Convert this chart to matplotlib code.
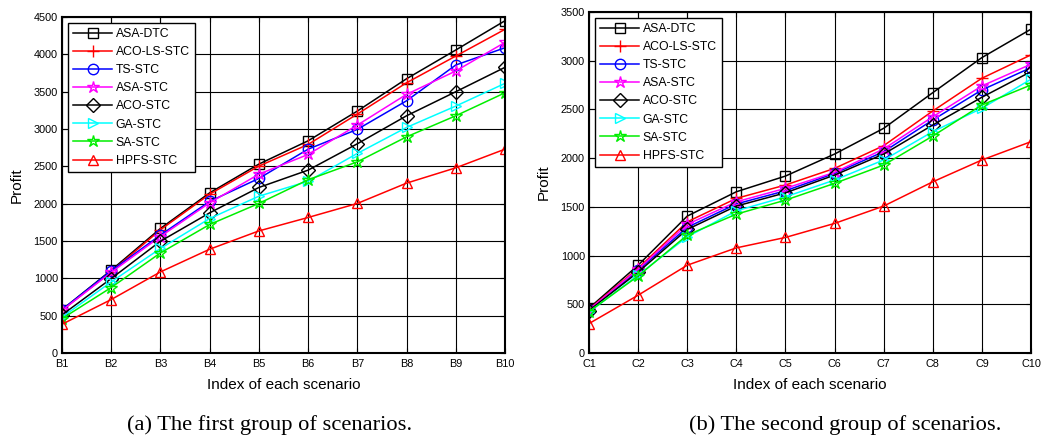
import numpy as np
from matplotlib import pyplot as plt

plt.rcParams["font.family"] = ["Liberation Sans", "DejaVu Sans"]

methods = ["ASA-DTC", "ACO-LS-STC", "TS-STC", "ASA-STC", "ACO-STC", "GA-STC", "SA-STC", "HPFS-STC"]
colors = ["black", "red", "blue", "magenta", "black", "cyan", "#00ee00", "red"]
markers = ["s", "+", "o", "*", "D", ">", "*", "^"]

labels_b = ["B%d" % i for i in range(1, 11)]
labels_c = ["C%d" % i for i in range(1, 11)]

# first group (B1..B10)
asa_dtc_b = [580, 1109, 1668, 2145, 2530, 2842, 3240, 3673, 4058, 4450]
aco_ls_b = [570, 1090, 1650, 2127, 2503, 2793, 3200, 3619, 3977, 4335]
ts_b = [580, 1100, 1580, 2030, 2338, 2730, 2995, 3378, 3857, 4088]
asa_stc_b = [570, 1080, 1560, 2011, 2395, 2659, 3052, 3464, 3777, 4160]
aco_stc_b = [510, 997, 1497, 1877, 2217, 2449, 2802, 3177, 3499, 3826]
ga_b = [480, 952, 1400, 1801, 2100, 2300, 2673, 3021, 3307, 3611]
sa_b = [460, 877, 1340, 1721, 2003, 2320, 2560, 2895, 3177, 3485]
hpfs_b = [385, 716, 1086, 1390, 1635, 1815, 2003, 2275, 2480, 2730]

# second group (C1..C10)
asa_dtc_c = [460, 901, 1405, 1655, 1816, 2042, 2306, 2672, 3032, 3324]
aco_ls_c = [450, 870, 1346, 1587, 1724, 1895, 2128, 2484, 2820, 3060]
ts_c = [440, 850, 1290, 1530, 1665, 1844, 2066, 2392, 2700, 2929]
asa_stc_c = [445, 860, 1320, 1552, 1690, 1854, 2094, 2425, 2741, 2964]
aco_stc_c = [435, 830, 1268, 1508, 1644, 1826, 2042, 2340, 2625, 2888]
ga_c = [420, 800, 1192, 1459, 1603, 1775, 1981, 2272, 2512, 2810]
sa_c = [425, 790, 1210, 1425, 1569, 1741, 1929, 2227, 2546, 2751]
hpfs_c = [302, 593, 901, 1079, 1186, 1330, 1508, 1757, 1981, 2169]

series_b = [asa_dtc_b, aco_ls_b, ts_b, asa_stc_b, aco_stc_b, ga_b, sa_b, hpfs_b]
series_c = [asa_dtc_c, aco_ls_c, ts_c, asa_stc_c, aco_stc_c, ga_c, sa_c, hpfs_c]


def draw_panel(ax, series, ticklabels, ymax):
    x = np.arange(1, len(ticklabels) + 1)
    for name, vals, c, m in zip(methods, series, colors, markers):
        ms = 9 if m in ("*", "+") else 7.5
        ax.plot(x, vals, color=c, marker=m, markersize=ms, markerfacecolor="none",
                markeredgecolor=c, markeredgewidth=1.0, linewidth=1.1, label=name)
    ax.set_xlim(1, len(ticklabels))
    ax.set_ylim(0, ymax)
    ax.set_xticks(x)
    ax.set_xticklabels(ticklabels)
    ax.set_yticks(np.arange(0, ymax + 1, 500))
    ax.grid(True, color="black", linewidth=0.8)
    ax.tick_params(direction="in", labelsize=7.8, top=True, right=True)
    ax.tick_params(axis="x", pad=4)
    ax.tick_params(axis="y", pad=3)
    for s in ax.spines.values():
        s.set_linewidth(1.5)
    ax.set_xlabel("Index of each scenario", fontsize=11, labelpad=7)
    ax.set_ylabel("Profit", fontsize=11, labelpad=7)
    leg = ax.legend(loc="upper left", fontsize=8.8, fancybox=False, framealpha=1,
                    edgecolor="black", handlelength=3.2, labelspacing=0.5,
                    borderaxespad=0.5, handletextpad=0.3, borderpad=0.4)
    leg.get_frame().set_linewidth(1.0)


fig = plt.figure(figsize=(10.49, 4.46), dpi=100)
ax1 = fig.add_axes([62 / 1049, 1 - 353 / 446, 443 / 1049, 336 / 446])
ax2 = fig.add_axes([589 / 1049, 1 - 353 / 446, 442 / 1049, 341 / 446])

draw_panel(ax1, series_b, labels_b, 4500)
draw_panel(ax2, series_c, labels_c, 3500)

fig.text(270 / 1049, 1 - 425 / 446, "(a) The first group of scenarios.", ha="center", va="center",
         fontsize=16.2, family="Liberation Serif")
fig.text(845 / 1049, 1 - 425 / 446, "(b) The second group of scenarios.", ha="center", va="center",
         fontsize=16.2, family="Liberation Serif")

fig.savefig("out.png", dpi=100)
